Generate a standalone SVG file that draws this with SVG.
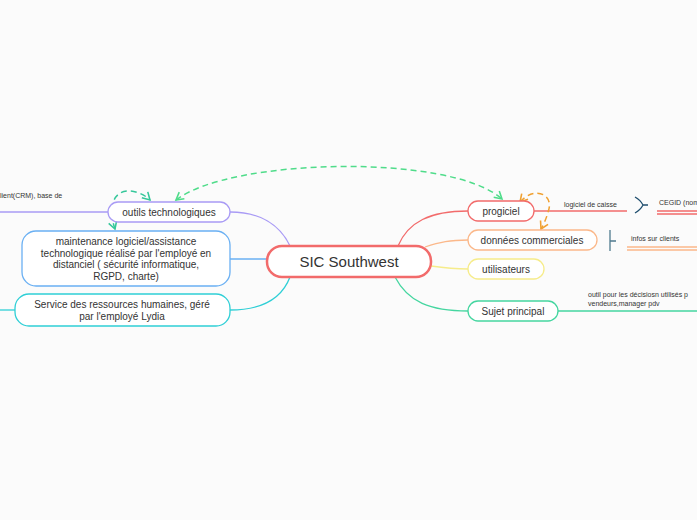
<svg xmlns="http://www.w3.org/2000/svg" width="697" height="520" viewBox="0 0 697 520">
<defs>
<style>
text{font-family:"Liberation Sans",Arial,sans-serif;fill:#333;}
.t{font-size:10px;text-anchor:middle;}
.s{font-size:7px;}
.box{fill:#fff;stroke-width:1.3;}
.ln{fill:none;stroke-width:1.3;}
.dash{fill:none;stroke-width:1.5;stroke-dasharray:6,4;}
</style>
<marker id="ag" viewBox="0 0 10 10" refX="8" refY="5" markerWidth="7" markerHeight="7" orient="auto-start-reverse"><path d="M1,1 L8,5 L1,9" fill="none" stroke="#4fdc8a" stroke-width="1.5"/></marker>
<marker id="ao" viewBox="0 0 10 10" refX="8" refY="5" markerWidth="7" markerHeight="7" orient="auto-start-reverse"><path d="M1,1 L8,5 L1,9" fill="none" stroke="#f0a030" stroke-width="1.5"/></marker>
<marker id="at" viewBox="0 0 10 10" refX="8" refY="5" markerWidth="7" markerHeight="7" orient="auto-start-reverse"><path d="M1,1 L8,5 L1,9" fill="none" stroke="#35c79a" stroke-width="1.5"/></marker>
</defs>
<rect width="697" height="520" fill="#fbfbfb"/>
<g id="connectors">
<path class="ln" stroke="#a99bf5" d="M290,246 C280,225 260,212 230,212"/>
<path class="ln" stroke="#6ab0f3" d="M230,259 L267,259"/>
<path class="ln" stroke="#2fcfd6" d="M290,277 C282,298 262,310 230,310"/>
<path class="ln" stroke="#a99bf5" d="M0,212 L108,212"/>
<path class="ln" stroke="#2fcfd6" d="M0,310 L15,310"/>
<path class="ln" stroke="#f26b6b" d="M398,246 C408,222 430,211 468,211"/>
<path class="ln" stroke="#fbb88a" d="M425,247 C440,242 450,240 468,240"/>
<path class="ln" stroke="#f6ec8a" d="M431,266 C445,268 455,269 468,269"/>
<path class="ln" stroke="#45d6a0" d="M395,277 C408,302 430,311 468,311"/>
<path class="ln" stroke="#f26b6b" d="M534,211 L627,211"/>
<path class="ln" stroke="#1f4e6e" d="M635,197 C640,200 642,203 643,205 C642,207 640,210 635,213 M643,205 L648,205"/>
<path class="ln" stroke="#f26b6b" d="M657,211 L697,211 M657,214 L697,214"/>
<path class="ln" stroke="#4f7a8e" stroke-width="1.5" d="M610,230 L610,251 M610,241 L616,241"/>
<path class="ln" stroke="#fbb88a" d="M627,247 L697,247 M627,250 L697,250"/>
<path class="ln" stroke="#45d6a0" d="M558,311 L697,311"/>
<path class="dash" stroke="#4fdc8a" marker-start="url(#ag)" marker-end="url(#ag)" d="M176,200 C230,158 450,153 502,199"/>
<path class="dash" stroke="#f0a030" marker-start="url(#ao)" marker-end="url(#ao)" d="M520,202 C535,185 555,195 548,212 C546,220 543,225 541,229"/>
<path class="dash" stroke="#35c79a" marker-start="url(#at)" marker-end="url(#at)" d="M115,229 C112,220 110,210 113,203 C118,185 140,190 150,200"/>
</g>
<g id="center"><rect x="267" y="246" width="164" height="31" rx="15" fill="#fff" stroke="#f26b6b" stroke-width="2.5"/><text x="349" y="267" style="font-size:15px;text-anchor:middle">SIC Southwest</text></g>
<g id="outils"><rect class="box" x="108" y="202" width="122" height="20" rx="10" stroke="#a99bf5"/><text class="t" x="169" y="216">outils technologiques</text></g>
<g id="maintenance"><rect class="box" x="22" y="231" width="208" height="55" rx="14" stroke="#6ab0f3"/>
<text class="t" x="126" y="245">maintenance logiciel/assistance</text>
<text class="t" x="126" y="257">technologique réalisé par l'employé en</text>
<text class="t" x="126" y="268">distanciel ( sécurité informatique,</text>
<text class="t" x="126" y="280">RGPD, charte)</text></g>
<g id="rh"><rect class="box" x="15" y="294" width="215" height="32" rx="14" stroke="#2fcfd6"/>
<text class="t" x="122" y="308">Service des ressources humaines, géré</text>
<text class="t" x="122" y="320">par l'employé Lydia</text></g>
<g id="crm"><text class="s" x="0" y="198">lient(CRM), base de</text></g>
<g id="progiciel"><rect class="box" x="468" y="201" width="66" height="20" rx="10" stroke="#f26b6b"/><text class="t" x="501" y="215">progiciel</text></g>
<g id="donnees"><rect class="box" x="468" y="230" width="129" height="20" rx="10" stroke="#fbb88a"/><text class="t" x="532" y="244">données commerciales</text></g>
<g id="utilisateurs"><rect class="box" x="468" y="259" width="76" height="20" rx="10" stroke="#f6ec8a"/><text class="t" x="506" y="273">utilisateurs</text></g>
<g id="sujet"><rect class="box" x="468" y="301" width="90" height="20" rx="10" stroke="#45d6a0"/><text class="t" x="513" y="315">Sujet principal</text></g>
<g id="caisse"><text class="s" x="564" y="207">logiciel de caisse</text></g>
<g id="cegid"><text class="s" x="659" y="205">CEGID (nom</text></g>
<g id="infos"><text class="s" x="631" y="241">infos sur clients</text></g>
<g id="outil"><text class="s" x="588" y="297">outil pour les décisiosn utilisés p</text><text class="s" x="588" y="306">vendeurs,manager pdv</text></g>
</svg>
